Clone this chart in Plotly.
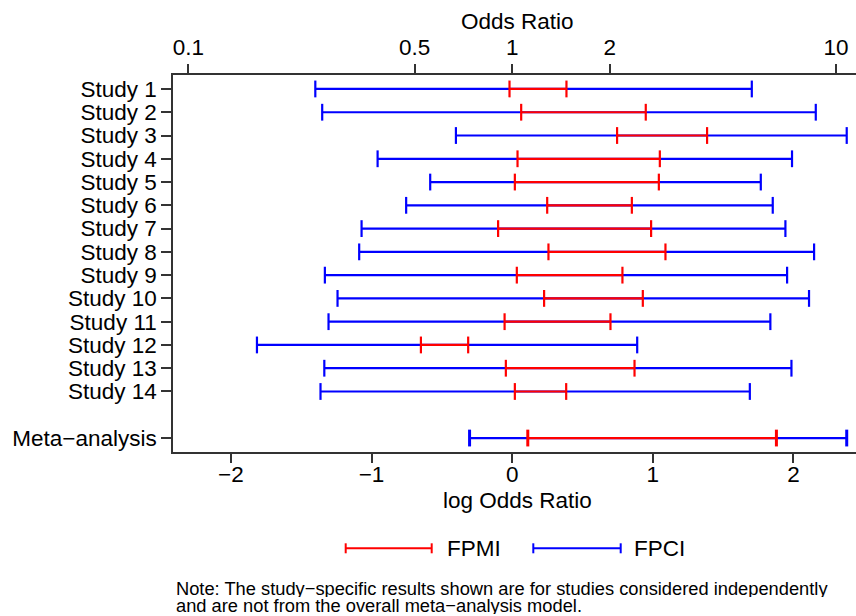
import numpy as np
import plotly.graph_objects as go

# Forest plot data (log odds ratio scale)
studies = ["Study 1", "Study 2", "Study 3", "Study 4", "Study 5", "Study 6", "Study 7",
           "Study 8", "Study 9", "Study 10", "Study 11", "Study 12", "Study 13", "Study 14",
           "Meta\u2212analysis"]
y_pos = [16, 15, 14, 13, 12, 11, 10, 9, 8, 7, 6, 5, 4, 3, 1]

fpci_lo = [-1.400, -1.351, -0.400, -0.957, -0.583, -0.754, -1.071, -1.088, -1.332, -1.242,
           -1.306, -1.815, -1.336, -1.363, -0.303]
fpci_hi = [1.704, 2.159, 2.379, 1.990, 1.768, 1.853, 1.943, 2.147, 1.955, 2.111,
           1.836, 0.889, 1.986, 1.690, 2.379]
fpmi_lo = [-0.019, 0.064, 0.746, 0.038, 0.019, 0.249, -0.100, 0.258, 0.033, 0.227,
           -0.054, -0.649, -0.045, 0.019, 0.111]
fpmi_hi = [0.386, 0.950, 1.386, 1.050, 1.043, 0.851, 0.988, 1.090, 0.784, 0.929,
           0.699, -0.313, 0.870, 0.384, 1.879]

or_ticks = [0.1, 0.5, 1, 2, 10]
or_labels = ["0.1", "0.5", "1", "2", "10"]

BLUE = '#0000FF'
RED = '#FF0000'
AXIS = '#333333'
FONT = 'Liberation Sans, Arial, sans-serif'
FS = 22.5       # main text size
FS_NOTE = 18.3  # footnote size

W, H = 856, 616
L, R, T, B = 173, 0, 75, 164
X_RANGE = [-2.412, 2.445]


def px_x(px):
    return (px - L) / (W - L - R)


def px_y(py):
    return (H - B - py) / (H - T - B)


def interval_traces(lo, hi, color, name):
    xs, ys = [], []
    for a, b, y in zip(lo, hi, y_pos):
        xs += [a, b, None]
        ys += [y, y, None]
    line = go.Scatter(x=xs, y=ys, mode='lines', name=name,
                      line=dict(color=color, width=2.2), showlegend=False,
                      hoverinfo='skip')
    # meta-analysis caps are drawn a bit heavier
    widths = [2.2] * (len(y_pos) - 1) + [3]
    caps = go.Scatter(x=list(lo) + list(hi), y=y_pos + y_pos, mode='markers',
                      marker=dict(symbol='line-ns', size=12,
                                  line=dict(color=color, width=widths + widths)),
                      showlegend=False, hoverinfo='skip')
    return [line, caps]


fig = go.Figure()
for tr in interval_traces(fpci_lo, fpci_hi, BLUE, 'FPCI'):
    fig.add_trace(tr)
for tr in interval_traces(fpmi_lo, fpmi_hi, RED, 'FPMI'):
    fig.add_trace(tr)

# invisible trace so the top (odds ratio) axis gets drawn
fig.add_trace(go.Scatter(x=[0], y=[1], xaxis='x2', mode='markers',
                         marker=dict(opacity=0), showlegend=False, hoverinfo='skip'))

# hand-drawn legend under the plot
shapes = []
legend_y = px_y(548.3)
for (x0, x1, color) in [(345.7, 431.7, RED), (533.3, 620.7, BLUE)]:
    shapes.append(dict(type='line', xref='paper', yref='paper',
                       x0=px_x(x0), x1=px_x(x1), y0=legend_y, y1=legend_y,
                       line=dict(color=color, width=2)))
    for xc in (x0, x1):
        shapes.append(dict(type='line', xref='paper', yref='paper',
                           x0=px_x(xc), x1=px_x(xc), y0=px_y(543.3), y1=px_y(553.3),
                           line=dict(color=color, width=2)))

annotations = [
    dict(text='Odds Ratio', x=px_x(517.5), y=px_y(21), xref='paper', yref='paper',
         showarrow=False, font=dict(size=FS), xanchor='center', yanchor='middle'),
    dict(text='log Odds Ratio', x=px_x(517.5), y=px_y(500), xref='paper', yref='paper',
         showarrow=False, font=dict(size=FS), xanchor='center', yanchor='middle'),
    dict(text='FPMI', x=px_x(445), y=legend_y, xref='paper', yref='paper',
         showarrow=False, font=dict(size=FS), xanchor='left', yanchor='middle'),
    dict(text='FPCI', x=px_x(632), y=legend_y, xref='paper', yref='paper',
         showarrow=False, font=dict(size=FS), xanchor='left', yanchor='middle'),
    dict(text='Note: The study\u2212specific results shown are for studies considered independently',
         x=px_x(174), y=px_y(588), xref='paper', yref='paper', height=17,
         showarrow=False, font=dict(size=FS_NOTE), xanchor='left', yanchor='middle'),
    dict(text='and are not from the overall meta\u2212analysis model.',
         x=px_x(174), y=px_y(605), xref='paper', yref='paper', height=17,
         showarrow=False, font=dict(size=FS_NOTE), xanchor='left', yanchor='middle'),
]

fig.update_layout(
    width=W, height=H,
    margin=dict(l=L, r=R, t=T, b=B),
    paper_bgcolor='white', plot_bgcolor='white',
    font=dict(family=FONT, size=FS, color='black'),
    showlegend=False,
    shapes=shapes,
    annotations=annotations,
    xaxis=dict(range=X_RANGE, tickvals=[-2, -1, 0, 1, 2], showgrid=False, zeroline=False,
               showline=True, linecolor=AXIS, linewidth=1.5,
               ticks='outside', ticklen=9, tickwidth=1.5, tickcolor=AXIS,
               ticklabelstandoff=-8, tickfont=dict(size=FS)),
    xaxis2=dict(range=X_RANGE, overlaying='x', side='top', anchor='y',
                tickvals=list(np.log(or_ticks)), ticktext=or_labels,
                showgrid=False, zeroline=False,
                showline=True, linecolor=AXIS, linewidth=1.5,
                ticks='outside', ticklen=9, tickwidth=1.5, tickcolor=AXIS,
                tickfont=dict(size=FS)),
    yaxis=dict(range=[0.4, 16.6], tickvals=y_pos, ticktext=studies,
               showgrid=False, zeroline=False,
               showline=True, linecolor=AXIS, linewidth=1.5,
               ticks='outside', ticklen=10, tickwidth=1.5, tickcolor=AXIS,
               tickfont=dict(size=FS)),
)

fig.write_html("out.html", config={'displayModeBar': False},
               post_script="document.body.style.margin='0';")
